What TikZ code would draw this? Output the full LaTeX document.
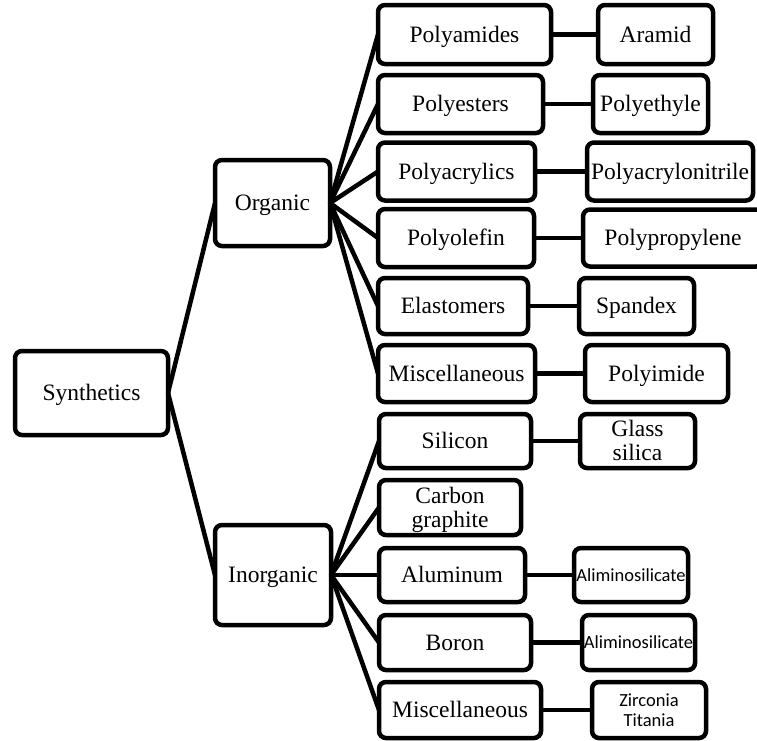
\documentclass[tikz,border=0pt]{standalone}
\usepackage{fontspec}
\setmainfont{Liberation Serif}
\newfontfamily\calfont{Carlito}
\newcommand{\tp}{\rule{0pt}{0.9em}}
\newcommand{\bt}{\rule[-0.24em]{0pt}{0.24em}}
\tikzset{
  box/.style={draw, line width=4.5pt, rounded corners=7pt, inner sep=0pt, outer sep=0pt,
    align=center, font=\fontsize{23.5}{24}\selectfont},
  smallbox/.style={box, font=\calfont\fontsize{18.5}{20}\selectfont},
  lnk/.style={line width=4.5pt}
}
\newcommand{\bx}[7][box]{\node[#1, minimum width=#5pt, minimum height=#6pt] (#2) at (#3pt,-#4pt) {\tp #7\bt};}
\begin{document}
\begin{tikzpicture}
\useasboundingbox (0,0) rectangle (757pt,-740pt);
\clip (0,0) rectangle (757pt,-740pt);
\bx{syn}{91.5}{393}{153}{84}{Synthetics}
\bx{org}{272.5}{203}{115}{86}{Organic}
\bx{inorg}{273}{575}{116}{100}{Inorganic}
\bx{pam}{464.5}{34.5}{173}{59}{Polyamides}
\bx{pes}{460.5}{104}{165}{58}{Polyesters}
\bx{pac}{456.5}{171.5}{157}{58}{Polyacrylics}
\bx{pol}{456}{238}{156}{58}{Polyolefin}
\bx{ela}{453}{306}{150}{56}{Elastomers}
\bx{mis}{456.5}{373.5}{157}{57}{Miscellaneous}
\bx{sil}{455}{441}{152}{54}{Silicon}
\bx{car}{450}{507.5}{142}{55}{Carbon\\graphite}
\bx{alu}{452}{575}{146}{54}{Aluminum}
\bx{bor}{455}{642.5}{152}{55}{Boron}
\bx{mistwo}{460}{710}{162}{56}{Miscellaneous}
\bx{ara}{655.5}{34.5}{115}{59}{Aramid}
\bx{pet}{650.5}{104}{115}{58}{Polyethyle}
\bx{pan}{670}{171.5}{166}{58}{Polyacrylonitrile}
\bx{ppy}{673}{238}{180}{57}{Polypropylene}
\bx{spa}{636.5}{306}{115}{56}{Spandex}
\bx{pim}{656.5}{373.5}{143}{57}{Polyimide}
\bx{gla}{637.5}{441}{115}{54}{Glass\\silica}
\bx[smallbox]{asone}{631}{575}{114}{54}{Aliminosilicate}
\bx[smallbox]{astwo}{638.5}{642.5}{113}{55}{Aliminosilicate}
\bx[smallbox]{zir}{649}{710}{114}{56}{Zirconia\\Titania}
\draw[lnk] (syn.east) -- (org.west);
\draw[lnk] (syn.east) -- (inorg.west);
\foreach \c in {pam,pes,pac,pol,ela,mis} \draw[lnk] (org.east) -- (\c.west);
\foreach \c in {sil,car,alu,bor,mistwo} \draw[lnk] (inorg.east) -- (\c.west);
\draw[lnk] (pam.east) -- (ara.west);
\draw[lnk] (pes.east) -- (pet.west);
\draw[lnk] (pac.east) -- (pan.west);
\draw[lnk] (pol.east) -- (ppy.west);
\draw[lnk] (ela.east) -- (spa.west);
\draw[lnk] (mis.east) -- (pim.west);
\draw[lnk] (sil.east) -- (gla.west);
\draw[lnk] (alu.east) -- (asone.west);
\draw[lnk] (bor.east) -- (astwo.west);
\draw[lnk] (mistwo.east) -- (zir.west);
\end{tikzpicture}
\end{document}
